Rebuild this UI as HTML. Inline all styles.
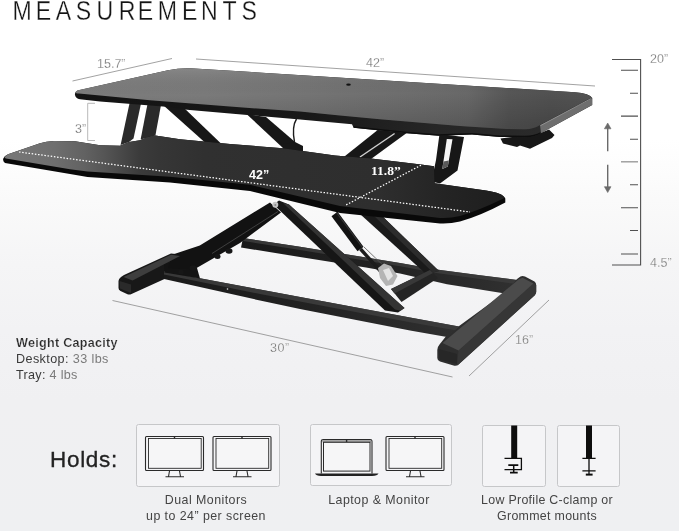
<!DOCTYPE html>
<html lang="en">
<head>
<meta charset="utf-8">
<title>Measurements</title>
<style>
html,body{margin:0;padding:0;}
body{width:679px;height:531px;overflow:hidden;position:relative;font-family:"Liberation Sans",sans-serif;
background:linear-gradient(180deg,#ffffff 0px,#ffffff 140px,#fafafa 200px,#f5f5f6 265px,#f2f2f4 330px,#f0f0f2 400px,#eff0f2 531px);}
#art{position:absolute;left:0;top:0;width:679px;height:531px;}
.t{will-change:transform;position:absolute;white-space:nowrap;line-height:1;}
.dim{font-size:12.5px;color:#5e5e5e;-webkit-text-stroke:0.3px #fafafa;}
.wlab{font-family:"Liberation Serif",serif;font-weight:700;color:#fff;font-size:13.5px;}
.cap{will-change:transform;font-size:12.4px;color:#444;letter-spacing:0.45px;text-align:center;line-height:15.6px;white-space:nowrap;position:absolute;}
.box{position:absolute;border:1px solid #c6c7c9;border-radius:2.5px;background:#f4f4f6;box-sizing:border-box;}
</style>
</head>
<body>
<svg id="art" style="will-change:transform" viewBox="0 0 679 531" width="679" height="531">
<defs>
<linearGradient id="gTop" x1="0" y1="0" x2="1" y2="0">
<stop offset="0" stop-color="#7c7c7c"/><stop offset="0.25" stop-color="#7a7a7a"/><stop offset="0.45" stop-color="#747474"/><stop offset="0.65" stop-color="#6d6d6d"/><stop offset="0.76" stop-color="#686868"/><stop offset="0.84" stop-color="#565656"/><stop offset="0.92" stop-color="#515151"/><stop offset="1" stop-color="#535353"/>
</linearGradient>
<linearGradient id="gTopV" x1="0" y1="0" x2="0.06" y2="1">
<stop offset="0" stop-color="#fff" stop-opacity="0.1"/><stop offset="0.45" stop-color="#000" stop-opacity="0"/><stop offset="1" stop-color="#000" stop-opacity="0.16"/>
</linearGradient>
<linearGradient id="gTray" x1="0" y1="0" x2="1" y2="0">
<stop offset="0" stop-color="#787878"/><stop offset="0.1" stop-color="#6e6e6e"/><stop offset="0.16" stop-color="#626262"/><stop offset="0.2" stop-color="#555555"/><stop offset="0.235" stop-color="#484848"/><stop offset="0.27" stop-color="#3b3b3b"/><stop offset="0.31" stop-color="#363636"/><stop offset="0.4" stop-color="#303030"/><stop offset="0.75" stop-color="#2e2e2e"/><stop offset="0.88" stop-color="#242424"/><stop offset="1" stop-color="#1e1e1e"/>
</linearGradient>
<linearGradient id="gEdge" x1="0" y1="0" x2="1" y2="0">
<stop offset="0" stop-color="#131313"/><stop offset="0.45" stop-color="#181818"/><stop offset="0.7" stop-color="#262626"/><stop offset="1" stop-color="#2c2c2c"/>
</linearGradient>
<linearGradient id="gRail" x1="0" y1="0" x2="1" y2="0">
<stop offset="0" stop-color="#1a1a1a"/><stop offset="0.5" stop-color="#222"/><stop offset="1" stop-color="#303030"/>
</linearGradient>
</defs>
<!-- dimension lines -->
<g stroke="#8a8a8a" stroke-width="0.8" fill="none">
<line x1="72.5" y1="81" x2="172" y2="58.5"/>
<line x1="196" y1="59" x2="595" y2="86"/>
<line x1="112.5" y1="300.5" x2="452.5" y2="377"/>
<line x1="469" y1="376" x2="549" y2="300"/>
<path d="M95 103.300H87.700V140.500H95" stroke="#a6a6a6"/>
</g>
<!-- ruler -->
<g stroke="#505050" stroke-width="1.100" fill="none">
<path d="M612 59.500H640.600V265H612"/>
<path d="M621 70.300H638M630 93.300H638M621 116.100H638M630 139.200H638M630 184.700H638M621 207.700H638M630 230.500H638M621 254H638"/>
<path d="M621 161.800H638" stroke="#9a9a9a" stroke-width="1.400"/>
</g>
<g stroke="#6a6a6a" stroke-width="1.400" fill="#6a6a6a">
<path d="M607.700 151.200V128" fill="none"/><path d="M607.700 123L611 128.800H604.400Z" stroke-width="0.600"/>
<path d="M607.700 164.800V187.500" fill="none"/><path d="M607.700 192.500L611 186.700H604.400Z" stroke-width="0.600"/>
</g>

<!-- BASE -->
<!-- back rail -->
<polygon points="243,238 300,246.800 400,263 436.500,269.400 480,275.300 517,280 508,294 480,289.500 447,284.200 400,273.500 366,267.400 300,257 241,247.500" fill="url(#gRail)"/>
<polygon points="243,238 300,246.800 400,263 436.500,269.400 480,275.300 517,280 514.500,283.800 480,279 436.500,273 400,266.300 300,250 243,241" fill="#3c3c3c" opacity="0.85"/>
<!-- back arm -->
<polygon points="360,214 380,214 439,271 426,274" fill="#1a1a1a"/>
<polygon points="372,214 380,214 439,271 433,272.500" fill="#2c2c2c"/>
<!-- right foot -->
<path d="M437.300 350Q437.300 347 439.500 344.500L447 335L455 329L507 291L517 279L520.500 276.500Q522.500 275.500 525 276.500L534.500 281.500Q536.200 282.500 536.200 285L536.200 292Q536.200 294 534.500 295.500L458.500 364.500Q456.500 366.300 453.500 365.500L440 361.500Q437.300 360.500 437.300 358Z" fill="#2e2e2e"/>
<!-- left foot -->
<path d="M118.500 281Q118.500 279 121 277L124 275L171 253.500L185 255L186 262L164.500 271.500L164.500 279L131.500 294Q129.500 295 127.500 294.300L120.500 291Q118.500 290 118.500 288Z" fill="#181818"/>
<!-- front rail -->
<polygon points="164,271.500 260,289.500 410,317.500 459,326.500 447,337 410,330.500 300,309 260,300.500 164,279" fill="url(#gRail)"/>
<polygon points="164,271.500 260,289.500 410,317.500 459,326.500 455,330.300 410,322.300 260,294 164,274.500" fill="#3c3c3c" opacity="0.9"/>
<!-- cross member -->
<polygon points="391,289 430,270 438,278 401.500,302" fill="#242424"/>
<polygon points="391,289 430,270 433,273 394.500,293.500" fill="#383838"/>
<polygon points="164,262 197,268 200,278.500 164.500,272.500" fill="#141414"/>
<!-- scissor arm 1 (pivot to left foot) -->
<polygon points="270,202.500 281,212.500 240,243 194,269.500 168,268 172,254.800 199.800,245.500" fill="#121212"/>
<line x1="278" y1="211.500" x2="212" y2="253.500" stroke="#4a4a4a" stroke-width="0.800"/>
<!-- scissor arm 2 (pivot to right front) -->
<polygon points="273.500,204.500 279,200.500 289,204.500 404.500,308 398,312.500 385,310.500" fill="#161616"/>
<polygon points="283,203 289,204.500 404.500,308 400.500,310.800 395,309.500" fill="#333"/>
<g fill="#171717"><ellipse cx="229" cy="251" rx="3.500" ry="2.800"/><ellipse cx="217.500" cy="256.500" rx="3" ry="2.500"/><ellipse cx="193" cy="268" rx="3.500" ry="2.800"/><ellipse cx="181" cy="272" rx="3" ry="2.500"/></g>
<!-- foot faces -->
<polygon points="458.500,350.500 533.500,283.500 536.200,285 536.200,292 534.500,295.500 458.500,364.500 457,365.500" fill="#363636"/>
<polygon points="442.500,343 518.500,279.500 522.500,277.800 533.500,283.500 458.500,350.500" fill="#4b4b4b"/>
<polygon points="438.500,349 457,354 457,364 439.500,359.500" fill="#272727"/>
<polygon points="123.500,277 171,254.800 180,256 132.500,280.500" fill="#3e3e3e"/>
<polygon points="119.500,281 131,284.500 131,293 120,288.500" fill="#2a2a2a"/>
<!-- gas spring -->
<line x1="334.500" y1="214" x2="360.500" y2="249" stroke="#121212" stroke-width="7.500"/>
<line x1="336.500" y1="212.500" x2="362.500" y2="247.500" stroke="#333" stroke-width="1.200"/>
<line x1="360.500" y1="249" x2="384" y2="275" stroke="#1c1c1c" stroke-width="3.400"/>
<line x1="364" y1="247" x2="388" y2="270" stroke="#555" stroke-width="0.800"/>
<polygon points="378,268 384,263.500 391,266 397.500,276 393,284.500 386,286 380,278" fill="#b4b4b4"/>
<polygon points="383,270 389,268 393,276 388,281" fill="#e4e4e4"/>
<circle cx="275.300" cy="204.800" r="3" fill="#c4c4c4"/><circle cx="275.300" cy="205" r="1" fill="#8a8a8a"/>
<circle cx="227.500" cy="289" r="0.800" fill="#ddd"/>
<!-- UPPER ARMS -->
<g fill="#2a2a2a">
<polygon points="129.700,102.500 141,103.500 133.500,138.600 129,142 120.600,145"/>
<polygon points="147.500,104 161,105 155.400,135.600 140.600,139.500"/>
</g>
<g fill="#171717">
<polygon points="163,105 183,107 221,143.500 205,142.500"/>
<polygon points="246.500,114 266,117 298,144.500 284,149"/>
<polygon points="283,143.500 296,142.500 303,146 303,152.500 283,151"/>
<polygon points="377.700,130 407,132.700 371,159 343.800,157"/>
<polygon points="439.500,134 464,137 457.500,170.500 440,183.500 431.500,181.500 436,160"/>
<polygon points="500.500,138.500 503,143.500 517,147 520,145.500 530,148.800 552,138 554.500,135 549,129.500 538,134"/>
</g>
<path d="M296.500 119C292 126 293 134 294.500 142" stroke="#1c1c1c" stroke-width="1.400" fill="none"/>
<polygon points="446.800,139 452.500,139.300 447.800,166.500 442.300,169" fill="#f6f6f6"/>
<polygon points="443.500,161.500 448.700,160.500 447.800,166.500 442.300,169" fill="#5a5a5a"/>
<line x1="360" y1="157" x2="394.600" y2="133.500" stroke="#cfcfcf" stroke-width="1.500"/>

<!-- TRAY -->
<path d="M3.300 158.500Q4 156 8 154.200L40 143.300Q46 141.300 54 141.100L75 141.200L100 145.300L120 145.800L129 142L140 140.300L148 137L155.400 135.600L180 139.200L230 144L283 148.300L335 155.600L371 158.500L421 164.500L434 166.300L434.700 183.200L486 190.500Q503 193 505.300 198.500L505.300 202.500Q480 216 460 221.500Q450 224 440 223.500L340 213L250 191L170 182.500L87.500 177L70 174L5 163Q2.500 161.500 3.300 158.500Z" fill="#090909"/>
<path d="M4.500 157.800Q5 156 8 154.200L40 143.300Q46 141.300 54 141.100L75 141.200L100 145.300L120 145.800L129 142L140 140.300L148 137L155.400 135.600L180 139.200L230 144L283 148.300L335 155.600L371 158.500L421 164.500L434 166.300L434.700 183.200L486 190.500Q503 193 504.500 198Q480 210 460 216Q450 218.500 440 218L340 206L250 184.800L170 176.700L87.500 171.600L70 169.200L6 158.500Z" fill="url(#gTray)"/>
<g stroke="#fff" stroke-width="1.250" stroke-dasharray="1.500 1.700" fill="none">
<line x1="19" y1="152" x2="470" y2="212"/>
<line x1="421" y1="165.200" x2="345" y2="205.500"/>
</g>

<!-- DESKTOP -->
<path d="M75 95Q74.500 92 77.500 90.500L168 70.300Q178 68 190 68.200L575 92.300Q590 93.500 592.300 98L592.300 105L541 133Q536 137 525 137.300L500 137L472 134.500L439 135.800L407 133.300L380 130.600L353.600 127.700L352 124.200L300 119.400L230 113.500L187 109.700L166 106.800L100 101.500L80 99.300Q75.500 98.500 75 95Z" fill="url(#gEdge)"/>
<path d="M353.600 126.200L380 129.100L407 131.800L439 134.300L472 133L500 135.500L525 135.800Q535 135.500 540 132.500L541 133Q536 137 525 137.300L500 137L472 134.500L439 135.800L407 133.300L380 130.600L353.600 127.700Z" fill="#0e0e0e"/>
<path d="M592 98.500L592 105L541 133L540 125.300Z" fill="#6e6e6e"/>
<path d="M75.500 92.800Q75.500 91 78 90.200L168 70.300Q178 68 190 68.200L575 92.300Q589 93.500 591.500 97.500L541 124.500Q533 129.500 524 129.200L507 128.900L460 126L380 119.200L340 115.600L300 111.600L230 106.500L150 100.200L79 93.500Q75.500 93.500 75.500 92.800Z" fill="url(#gTop)"/>
<path d="M75.500 92.800Q75.500 91 78 90.200L168 70.300Q178 68 190 68.200L575 92.300Q589 93.500 591.500 97.500L541 124.500Q533 129.500 524 129.200L507 128.900L460 126L380 119.200L340 115.600L300 111.600L230 106.500L150 100.200L79 93.500Q75.500 93.500 75.500 92.800Z" fill="url(#gTopV)"/>
<path d="M591.500 98.300L540.500 125.600" stroke="#9c9c9c" stroke-width="0.800" fill="none"/>
<ellipse cx="348.500" cy="84.700" rx="2.300" ry="1.100" fill="#111"/>

</svg>
<div class="t dim" style="left:97.1px;top:58px;">15.7”</div>
<div class="t dim" style="left:366px;top:57px;">42”</div>
<div class="t dim" style="left:650px;top:53px;">20”</div>
<div class="t dim" style="left:650px;top:257px;">4.5”</div>
<div class="t dim" style="left:75px;top:123px;">3”</div>
<div class="t dim" style="left:270px;top:342px;letter-spacing:0.6px;">30”</div>
<div class="t dim" style="left:515px;top:334px;">16”</div>
<div class="t wlab" style="left:248.5px;top:169px;font-family:'Liberation Sans',sans-serif;font-size:12.5px;">42”</div>
<div class="t wlab" style="left:370.8px;top:164px;">11.8”</div>
<div class="t" style="left:16px;top:337px;font-size:12.6px;font-weight:700;color:#2a2a2a;letter-spacing:0.27px;-webkit-text-stroke:0.2px #f3f3f4;">Weight Capacity</div>
<div class="t" style="left:16px;top:353px;font-size:12.6px;color:#3a3a3a;letter-spacing:0.4px;">Desktop: <span style="color:#7a7a7a">33 lbs</span></div>
<div class="t" style="left:16px;top:368.5px;font-size:12.6px;color:#3a3a3a;letter-spacing:0.3px;">Tray: <span style="color:#7a7a7a">4 lbs</span></div>
<div class="t" style="left:49.500px;top:449px;font-size:22.5px;color:#222;letter-spacing:0.7px;-webkit-text-stroke:0.3px #222;">Holds:</div>
<div class="box" style="left:136px;top:424px;width:143.5px;height:62.5px;"></div>
<div class="box" style="left:309.5px;top:424px;width:142.5px;height:61.5px;"></div>
<div class="box" style="left:482px;top:425px;width:63.5px;height:61.5px;"></div>
<div class="box" style="left:556.5px;top:425px;width:63.5px;height:61.5px;"></div>
<div class="cap" style="left:126px;width:160px;top:492.5px;">Dual Monitors<br>up to 24” per screen</div>
<div class="cap" style="left:299px;width:160px;top:492.5px;">Laptop &amp; Monitor</div>
<div class="cap" style="left:467px;width:160px;top:492.5px;letter-spacing:0.3px;">Low Profile C-clamp or<br>Grommet mounts</div>
<svg style="position:absolute;left:0;top:0;will-change:transform" viewBox="0 0 679 531" width="679" height="531">
<g fill="none" stroke="#2a2a2a" stroke-width="1.1">
<!-- monitor 1 -->
<rect x="145.500" y="436.500" width="58" height="34" rx="1"/>
<rect x="148.500" y="438.500" width="52.700" height="29.800" fill="#f6f6f7" stroke-width="0.9"/>
<path d="M169.500 471L168.500 476.500M179.500 471L180.500 476.500M165.500 476.700H184"/>
<!-- monitor 2 -->
<rect x="213" y="436.500" width="58" height="34" rx="1"/>
<rect x="216" y="438.500" width="52.700" height="29.800" fill="#f6f6f7" stroke-width="0.9"/>
<path d="M237 471L236 476.500M247 471L248 476.500M233 476.700H251.500"/>
<!-- monitor 3 -->
<rect x="386" y="436.500" width="58" height="34" rx="1"/>
<rect x="389" y="438.500" width="52.700" height="29.800" fill="#f6f6f7" stroke-width="0.9"/>
<path d="M410.500 471L409.500 476.500M420 471L421 476.500M406 476.700H424.500"/>
<!-- laptop -->
<path d="M321.300 473.500V441.500Q321.300 439.600 323.300 439.600H370Q372 439.600 372 441.500V473.500"/>
<rect x="322.300" y="440.300" width="49" height="2" fill="#9a9a9a" stroke="none"/>
<rect x="323.500" y="442.300" width="46.500" height="28.800" fill="#f6f6f7" stroke-width="1"/>
</g>
<path d="M315 473.600H378.500Q377.500 476 372 476H321Q316 476 315 473.600Z" fill="#222"/>
<g stroke="#2a2a2a" stroke-width="1.4"><path d="M174.500 436.300V438.500M242 436.300V438.500M415 436.300V438.500M346.600 439.800V442"/></g>
<!-- clamps -->
<g fill="#0d0d0d">
<rect x="511.200" y="425.500" width="6" height="32.500"/>
<rect x="586" y="425.500" width="6" height="32.500"/>
</g>
<g fill="none" stroke="#0d0d0d" stroke-width="1.3">
<path d="M504.500 458.300H521.400V469.700H504.500"/>
<path d="M508.300 465.100H518.300M510 472.600H517.700" stroke-width="1.900"/><path d="M513.700 465.200V472.500" stroke-width="1.500"/>
<path d="M582.400 458.300H595.600M589 458.300V474M582.400 470.800H595.600"/><path d="M585.800 474.600H592.600" stroke-width="2"/>
</g>

<g transform="scale(0.86,1)"><text y="19.8" font-family="Liberation Sans, sans-serif" font-size="26.9" fill="#141414" stroke="#fff" stroke-width="0.3" text-anchor="middle" x="25.8 50.5 73.8 97.0 122.0 147.9 169.2 194.6 220.6 243.5 266.9 289.8">MEASUREMENTS</text></g>
</svg>
</body>
</html>
